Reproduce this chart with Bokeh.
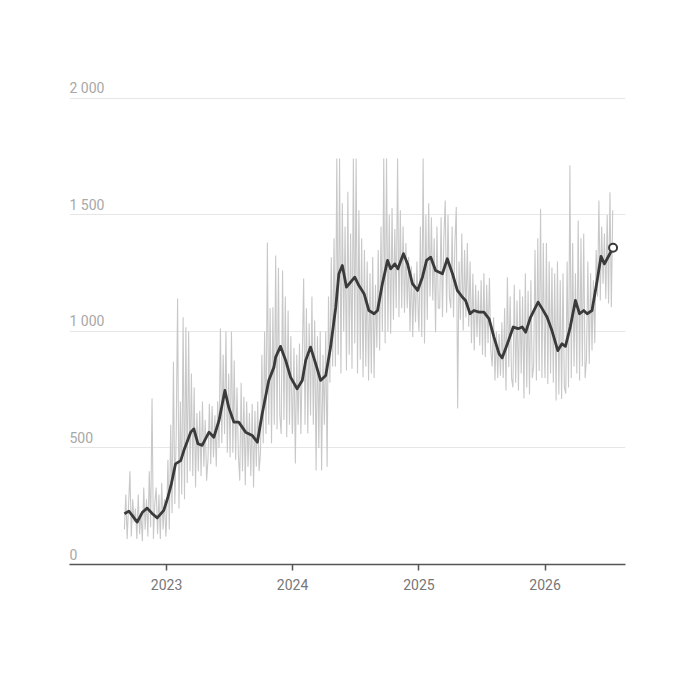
from datetime import datetime
import pandas as pd
from bokeh.plotting import figure
from bokeh.models import Range1d, FixedTicker, DatetimeTickFormatter
from bokeh.core.properties import value
from bokeh.embed import file_html
from bokeh.resources import INLINE

# ---------------- data ----------------
# Smoothed (moving average) series
avg_dates = [
    "2022-09-01", "2022-09-14", "2022-09-24", "2022-10-08", "2022-10-23", "2022-11-06",
    "2022-11-21", "2022-12-05", "2022-12-24", "2023-01-05", "2023-01-15", "2023-01-27",
    "2023-02-11", "2023-02-22", "2023-03-12", "2023-03-21", "2023-04-02", "2023-04-14",
    "2023-05-04", "2023-05-18", "2023-06-02", "2023-06-19", "2023-06-30", "2023-07-15",
    "2023-07-29", "2023-08-18", "2023-09-06", "2023-09-21", "2023-10-05", "2023-10-24",
    "2023-11-08", "2023-11-13", "2023-11-27", "2023-12-12", "2023-12-26", "2024-01-14",
    "2024-01-29", "2024-02-08", "2024-02-22", "2024-03-08", "2024-03-22", "2024-04-06",
    "2024-04-20", "2024-05-05", "2024-05-14", "2024-05-24", "2024-06-05", "2024-06-17",
    "2024-06-29", "2024-07-11", "2024-07-26", "2024-08-09", "2024-08-24", "2024-09-03",
    "2024-09-17", "2024-10-02", "2024-10-11", "2024-10-23", "2024-11-01", "2024-11-17",
    "2024-11-29", "2024-12-13", "2024-12-28", "2025-01-11", "2025-01-23", "2025-02-04",
    "2025-02-18", "2025-03-10", "2025-03-24", "2025-04-08", "2025-04-22", "2025-05-07",
    "2025-05-16", "2025-05-29", "2025-06-09", "2025-06-24", "2025-07-08", "2025-07-23",
    "2025-08-06", "2025-08-21", "2025-08-30", "2025-09-14", "2025-10-01", "2025-10-15",
    "2025-10-27", "2025-11-06", "2025-11-20", "2025-12-12", "2025-12-24", "2026-01-07",
    "2026-01-21", "2026-02-07", "2026-02-19", "2026-03-01", "2026-03-15", "2026-03-30",
    "2026-04-11", "2026-04-23", "2026-05-03", "2026-05-17", "2026-06-01", "2026-06-12",
    "2026-06-22", "2026-07-05", "2026-07-17",
]
avg_values = [
    218, 229, 210, 182, 224, 242,
    218, 200, 232, 289, 346, 432,
    446, 497, 568, 582, 518, 511,
    568, 546, 618, 747, 675, 611,
    611, 568, 554, 525, 647, 790,
    847, 890, 936, 876, 804, 754,
    790, 876, 933, 861, 790, 811,
    933, 1104, 1248, 1283, 1190, 1212,
    1233, 1197, 1162, 1090, 1076, 1090,
    1205, 1305, 1269, 1290, 1269, 1334,
    1290, 1205, 1176, 1233, 1305, 1319,
    1262, 1248, 1312, 1248, 1176, 1147,
    1133, 1076, 1090, 1083, 1083, 1054,
    976, 904, 887, 947, 1019, 1012,
    1019, 997, 1061, 1126, 1097, 1061,
    1004, 918, 947, 936, 1019, 1133,
    1076, 1090, 1076, 1090, 1219, 1322,
    1290, 1326, 1359,
]

# Raw series, one value every 4 days from each start date
raw_2022_start = "2022-09-01"
raw_2022 = [
    150, 300, 110, 250, 400, 120, 280, 180,          # Sep
    240, 110, 300, 130, 220, 100, 330, 150,          # Oct
    280, 120, 400, 160, 712, 110, 260,               # Nov
    330, 130, 300, 110, 350, 150, 280, 120,          # Dec
]
raw_2023_start = "2023-01-01"
raw_2023 = [
    180, 450, 150, 600, 220, 870, 260, 560,          # Jan
    1142, 240, 700, 300, 1061, 280, 1018,            # Feb
    350, 1000, 400, 820, 380, 760, 330, 650,         # Mar
    400, 660, 380, 700, 420, 620, 360,               # Apr
    450, 690, 430, 680, 460, 640, 420, 700,          # May
    500, 1013, 520, 900, 560, 1000, 480, 820,        # Jun
    460, 1000, 480, 875, 450, 760, 470,              # Jul
    360, 780, 400, 720, 340, 700, 420, 650,          # Aug
    380, 690, 330, 660, 420, 700, 400,               # Sep
    480, 900, 520, 1000, 560, 1382, 600, 1100,       # Oct
    520, 1104, 600, 1326, 580, 1274, 640,            # Nov
    560, 1262, 620, 1150, 546, 1090, 600, 980, 560,  # Dec
]
raw_2024_start = "2024-01-01"
raw_2024 = [
    580, 930, 433, 900, 600, 948, 560, 880,          # Jan
    1227, 600, 1100, 562, 1035, 640, 1150,           # Feb
    600, 1047, 403, 980, 500, 1000, 403, 900,        # Mar
    600, 1000, 420, 1150, 780, 1319, 850,            # Apr
    1400, 850, 1742, 900, 1742, 820, 1550, 1000,     # May
    1450, 833, 1600, 900, 1420, 840, 1742, 950,      # Jun
    1742, 820, 1520, 880, 1400, 804, 1350,           # Jul
    850, 1300, 790, 1250, 820, 1320, 800, 1200,      # Aug
    930, 1350, 918, 1450, 1000, 1742, 950,           # Sep
    1742, 1000, 1500, 990, 1530, 1050, 1440, 1100,   # Oct
    1742, 1061, 1520, 1100, 1450, 1080, 1380,        # Nov
    1100, 1320, 1000, 1280, 976, 1250, 1040, 1300, 1060,  # Dec
]
raw_2025_start = "2025-01-01"
raw_2025 = [
    1000, 1450, 976, 1742, 948, 1500, 1050, 1550,    # Jan
    1150, 1490, 1133, 1400, 997, 1450, 1100,         # Feb
    1100, 1490, 1061, 1400, 1562, 1080, 1500, 1150,  # Mar
    1100, 1450, 1061, 1380, 1534, 670, 1300,         # Apr
    1050, 1420, 1004, 1350, 1060, 1380, 1020, 1300,  # May
    950, 1248, 918, 1200, 976, 1176, 940, 1220,      # Jun
    900, 1250, 890, 1200, 950, 1230, 920,            # Jul
    850, 1061, 790, 1000, 800, 990, 810, 1040,       # Aug
    800, 1100, 747, 1233, 847, 1150, 800,            # Sep
    760, 1200, 780, 1133, 747, 1180, 820, 1150,      # Oct
    712, 1250, 760, 1175, 730, 1220, 800,            # Nov
    850, 1350, 790, 1400, 830, 1527, 800, 1380, 850, # Dec
]
raw_2026_start = "2026-01-01"
raw_2026 = [
    800, 1380, 775, 1300, 820, 1275, 780, 1250,      # Jan
    704, 1300, 730, 1220, 710, 1250, 760,            # Feb
    733, 1300, 760, 1712, 800, 1380, 850, 1250,      # Mar
    820, 1476, 790, 1400, 850, 1420, 800,            # Apr
    880, 1300, 860, 1250, 918, 1220, 950, 1350,      # May
    1150, 1562, 1133, 1450, 1205, 1420, 1140, 1500,  # Jun
    1120, 1598, 1104, 1520,                          # Jul
]

y_tick_values = [0, 500, 1000, 1500, 2000]
y_tick_labels = ["0", "500", "1 000", "1 500", "2 000"]
x_tick_years = [2023, 2024, 2025, 2026]

# ---------------- build ----------------
raw_x, raw_y = [], []
for start, vals in [(raw_2022_start, raw_2022), (raw_2023_start, raw_2023),
                    (raw_2024_start, raw_2024), (raw_2025_start, raw_2025),
                    (raw_2026_start, raw_2026)]:
    raw_x.extend(pd.date_range(start, periods=len(vals), freq="4D"))
    raw_y.extend(vals)

avg_x = pd.to_datetime(avg_dates)

x_start = datetime(2022, 3, 26)
x_end = datetime(2026, 8, 22)

p = figure(
    width=672, height=672,
    x_axis_type="datetime",
    x_range=Range1d(x_start, x_end),
    y_range=Range1d(0, 2120),
    output_backend="svg", toolbar_location=None,
    min_border_left=69, min_border_right=47,
    min_border_top=70, min_border_bottom=108,
)
p.outline_line_color = None
p.background_fill_color = "white"
p.border_fill_color = "white"

p.yaxis.visible = False
p.xgrid.visible = False
p.ygrid.ticker = FixedTicker(ticks=y_tick_values[1:])
p.ygrid.grid_line_color = "#e6e6e6"
p.ygrid.grid_line_width = 1

tick_ms = [pd.Timestamp(f"{y}-01-01").value // 10**6 for y in x_tick_years]
p.xaxis.ticker = FixedTicker(ticks=tick_ms)
p.xaxis.formatter = DatetimeTickFormatter(
    years="%Y", months="%Y", days="%Y", hours="%Y", minutes="%Y",
    hourmin="%Y", seconds="%Y", milliseconds="%Y", microseconds="%Y", minsec="%Y")
p.xaxis.axis_line_color = "#555555"
p.xaxis.axis_line_width = 1.5
p.xaxis.major_tick_line_color = "#555555"
p.xaxis.major_tick_line_width = 1.5
p.xaxis.major_tick_out = 6
p.xaxis.major_tick_in = 0
p.xaxis.minor_tick_line_color = None
p.xaxis.major_label_standoff = 8
p.xaxis.major_label_text_font = "Roboto"
p.xaxis.major_label_text_font_size = "14px"
p.xaxis.major_label_text_color = "#777777"

p.line(raw_x, raw_y, line_color="#c8c8c8", line_width=1.1)
p.line(avg_x, avg_values, line_color="#3a3a3a", line_width=2.8, line_join="round")
p.scatter([avg_x[-1]], [avg_values[-1]], size=8, marker="circle",
          fill_color="white", line_color="#3a3a3a", line_width=2)

p.text(x=[x_start] * len(y_tick_values), y=y_tick_values, text=y_tick_labels,
       text_align="left", text_baseline="alphabetic", y_offset=-10,
       text_font=value("Roboto"), text_font_size="14px", text_color="#a8a8a8")

open("out.html", "w").write(file_html(p, INLINE))
